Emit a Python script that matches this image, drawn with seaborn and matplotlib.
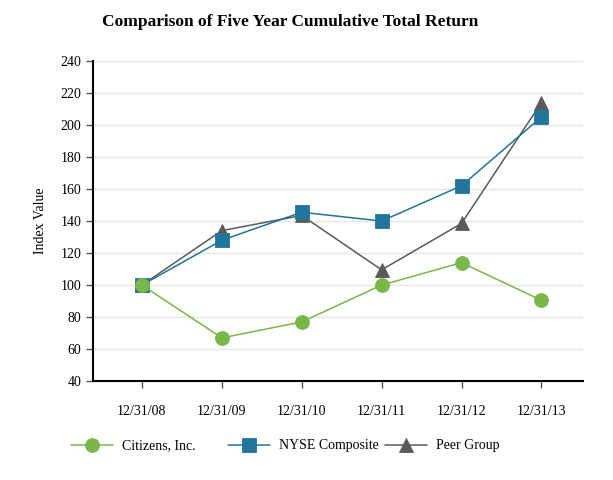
import pandas as pd
import matplotlib
matplotlib.use("Agg")
import matplotlib.pyplot as plt
import seaborn as sns

dates = ["12/31/08", "12/31/09", "12/31/10", "12/31/11", "12/31/12", "12/31/13"]
citizens = [100, 67, 77, 100, 114, 90.5]
nyse = [100, 128, 145.5, 140, 162, 205]
peer = [100, 134, 143.5, 109.5, 138.5, 214]

series = ["Citizens, Inc.", "NYSE Composite", "Peer Group"]
colors = {"Citizens, Inc.": "#7ab648", "NYSE Composite": "#21759b", "Peer Group": "#5a5a5a"}
markers = {"Citizens, Inc.": "o", "NYSE Composite": "s", "Peer Group": "^"}

df = pd.DataFrame({"date": dates, series[0]: citizens, series[1]: nyse, series[2]: peer})
df["pos"] = range(len(dates))
long = df.melt(id_vars=["date", "pos"], value_vars=series, var_name="series", value_name="value")

sns.set_theme(style="white")
plt.rcParams["font.family"] = ["Liberation Serif", "DejaVu Serif"]
plt.rcParams["text.color"] = "black"
plt.rcParams["axes.labelcolor"] = "black"

fig = plt.figure(figsize=(6.13, 4.8), dpi=100)
ax = fig.add_axes([0.152, 0.206, 0.799, 0.667])

# draw peer first so NYSE sits over it, citizens on top
order = ["Peer Group", "NYSE Composite", "Citizens, Inc."]
for name in order:
    sub = long[long["series"] == name]
    sns.lineplot(data=sub, x="pos", y="value", ax=ax, color=colors[name],
                 marker=markers[name], markersize=10, linewidth=1.1,
                 markeredgewidth=0.6, markeredgecolor=colors[name], label=name)

ax.set_xlim(-0.61, 5.52)
ax.set_ylim(40, 240)
ax.set_yticks(range(40, 241, 20))
ax.set_xticks(range(len(dates)))
ax.set_xticklabels(dates)
ax.set_xlabel("")
ax.set_ylabel("Index Value", fontsize=10, labelpad=10)
ax.yaxis.grid(True, color="#e6e6e6", linewidth=1)
ax.set_axisbelow(True)
for s in ["top", "right"]:
    ax.spines[s].set_visible(False)
for s in ["left", "bottom"]:
    ax.spines[s].set_color("black")
    ax.spines[s].set_linewidth(1.5)
ax.tick_params(axis="both", which="both", direction="out", length=5, width=1,
               color="#555555", labelsize=10, labelcolor="black", left=True, bottom=True)
ax.tick_params(axis="x", pad=12)

fig.suptitle("Comparison of Five Year Cumulative Total Return", x=0.474, y=0.97,
             fontsize=12.5, fontweight="bold", color="black")

handles, labels = ax.get_legend_handles_labels()
ax.legend_.remove()
hmap = dict(zip(labels, handles))
# fixed-width legend slots like the original
for i, name in enumerate(series):
    leg = fig.legend([hmap[name]], [name], loc="center left",
                     bbox_to_anchor=((72 + 157 * i - 8) / 613, 1 - 446 / 480),
                     frameon=False, fontsize=10, handlelength=3.0,
                     handletextpad=0.7, borderaxespad=0, borderpad=0.5,
                     labelcolor="black")

fig.savefig("out.png", dpi=100)
